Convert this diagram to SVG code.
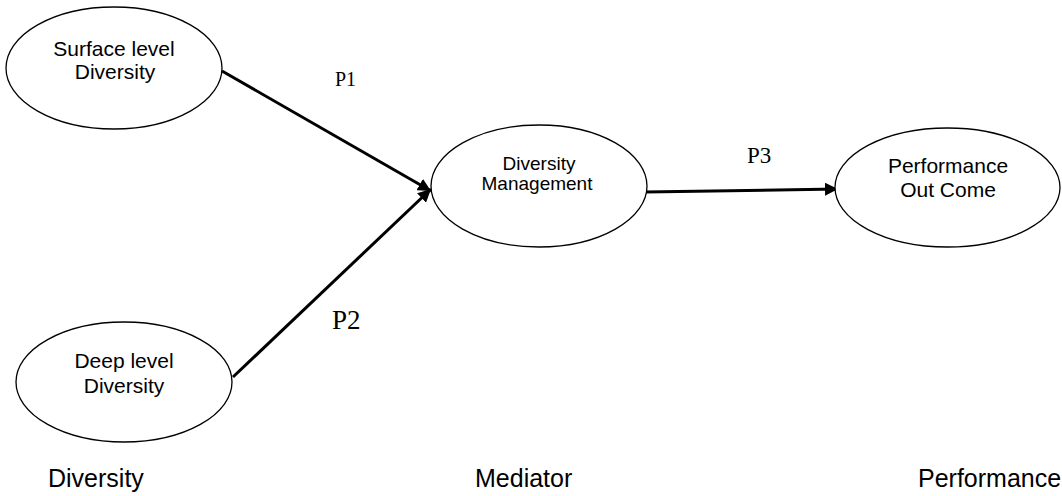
<svg xmlns="http://www.w3.org/2000/svg" width="1062" height="496" viewBox="0 0 1062 496">
  <style>
    .node { fill: #ffffff; stroke: #000000; stroke-width: 1.3; }
    .lbl { font-family: "Liberation Sans", Arial, sans-serif; fill: #000000; text-anchor: middle; }
    .p { font-family: "Liberation Serif", "Times New Roman", serif; fill: #000000; }
    .col { font-family: "Liberation Sans", Arial, sans-serif; font-size: 25px; fill: #000000; }
    .edge { stroke: #000000; stroke-width: 3; fill: none; }
  </style>
  <defs>
    <marker id="arrow" markerUnits="userSpaceOnUse" markerWidth="14" markerHeight="13" refX="13" refY="6.5" orient="auto">
      <path d="M0,0 L13,6.5 L0,13 z" fill="#000000"/>
    </marker>
  </defs>
  <rect width="1062" height="496" fill="#ffffff"/>

  <g id="connectors">
    <line class="edge" x1="222" y1="71" x2="431" y2="191" marker-end="url(#arrow)"/>
    <line class="edge" x1="233" y1="377" x2="431" y2="189" marker-end="url(#arrow)"/>
    <line class="edge" x1="645" y1="192" x2="838" y2="189" marker-end="url(#arrow)"/>
    <text class="p" x="335" y="86" font-size="20">P1</text>
    <text class="p" x="332" y="329" font-size="27">P2</text>
    <text class="p" x="747" y="163" font-size="23">P3</text>
  </g>

  <g id="surface">
    <ellipse class="node" cx="114" cy="68" rx="108" ry="61"/>
    <text class="lbl" x="114" y="56" font-size="21">Surface level</text>
    <text class="lbl" x="115" y="79" font-size="21">Diversity</text>
  </g>

  <g id="deep">
    <ellipse class="node" cx="124" cy="382" rx="108" ry="60"/>
    <text class="lbl" x="124" y="368" font-size="21">Deep level</text>
    <text class="lbl" x="124" y="393" font-size="21">Diversity</text>
  </g>

  <g id="management">
    <ellipse class="node" cx="539" cy="186" rx="108" ry="61"/>
    <text class="lbl" x="539" y="170" font-size="19">Diversity</text>
    <text class="lbl" x="537" y="190" font-size="19">Management</text>
  </g>

  <g id="performance">
    <ellipse class="node" cx="947.5" cy="187.5" rx="112.5" ry="59.5"/>
    <text class="lbl" x="948" y="173" font-size="21">Performance</text>
    <text class="lbl" x="948" y="197" font-size="21">Out Come</text>
  </g>

  <g id="columns">
    <text class="col" x="48" y="487">Diversity</text>
    <text class="col" x="475" y="487">Mediator</text>
    <text class="col" x="918" y="487">Performance</text>
  </g>
</svg>
